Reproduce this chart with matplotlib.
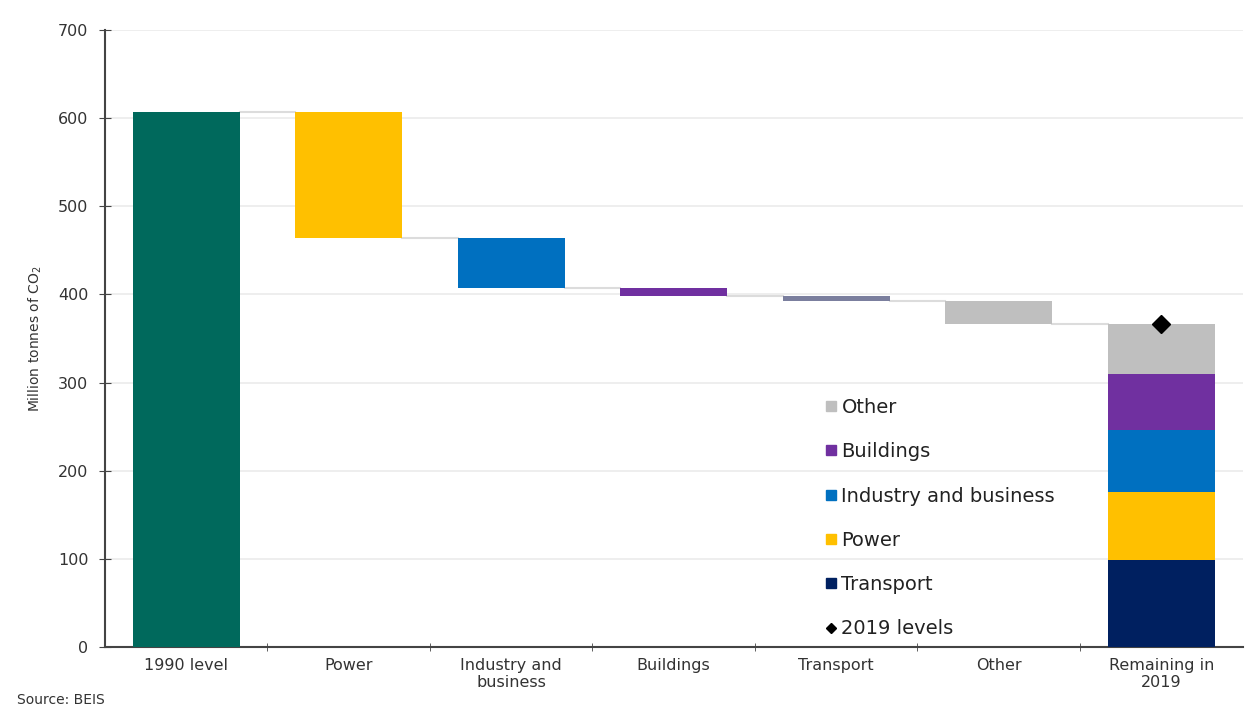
import matplotlib.pyplot as plt
from matplotlib.lines import Line2D

plt.rcParams['font.family'] = ['DejaVu Sans']

# data (million tonnes CO2)
categories = ['1990 level', 'Power', 'Industry and\nbusiness', 'Buildings',
              'Transport', 'Other', 'Remaining in\n2019']
level_1990 = 607
reductions = [143, 57, 9, 5, 27]          # Power, Industry, Buildings, Transport, Other
reduction_colours = ['#ffc000', '#0070c0', '#7030a0', '#7b7f9e', '#bfbfbf']

stack_labels = ['Transport', 'Power', 'Industry and business', 'Buildings', 'Other']
stack_values = [99, 77, 70, 64, 56]
stack_colours = ['#002060', '#ffc000', '#0070c0', '#7030a0', '#bfbfbf']
level_2019 = 366

fig = plt.figure(figsize=(12.45, 7.08), dpi=100)
ax = fig.add_axes([0.0843, 0.0862, 0.9137, 0.8714])

width = 0.66
x = list(range(len(categories)))

# 1990 level
ax.bar(x[0], level_1990, width=width, color='#00695c', zorder=3)

# waterfall steps
top = level_1990
tops = [level_1990]
for i, (r, col) in enumerate(zip(reductions, reduction_colours)):
    ax.bar(x[i + 1], r, bottom=top - r, width=width, color=col, zorder=3)
    top -= r
    tops.append(top)

# connector lines
for i in range(len(tops)):
    ax.plot([x[i] + width / 2, x[i + 1] - width / 2], [tops[i], tops[i]],
            color='#dcdcdc', lw=1.5, zorder=2)

# remaining stack
bottom = 0
handles = {}
for lab, val, col in zip(stack_labels, stack_values, stack_colours):
    ax.bar(x[-1], val, bottom=bottom, width=width, color=col, zorder=3)
    bottom += val
    handles[lab] = Line2D([], [], marker='s', ls='none', color=col, markersize=7)

ax.plot(x[-1], level_2019, marker='D', color='black', markersize=9, ls='none', zorder=4)
handles['2019 levels'] = Line2D([], [], marker='D', ls='none', color='black', markersize=5)

order = ['Other', 'Buildings', 'Industry and business', 'Power', 'Transport', '2019 levels']
ax.legend([handles[k] for k in order], order, loc='upper left',
          bbox_to_anchor=(0.615, 0.432), frameon=False, fontsize=14,
          labelspacing=1.3, handletextpad=0.1, handlelength=0.9,
          labelcolor='#222222')

ax.set_xlim(-0.5, 6.5)
ax.set_ylim(0, 700)
ax.set_yticks(range(0, 701, 100))
ax.set_xticks(x)
ax.set_xticklabels(categories, fontsize=11.5, color='#333333')
ax.set_xticks([i + 0.5 for i in range(6)], minor=True)
ax.tick_params(axis='x', which='major', length=0, pad=8)
ax.tick_params(axis='x', which='minor', length=6, direction='inout', color='#444444')
ax.tick_params(axis='y', length=8, direction='inout', labelsize=11.5,
               labelcolor='#333333', color='#444444', pad=8)

ax.grid(axis='y', color='#ebebeb', lw=1.2, zorder=0)
for s in ['top', 'right']:
    ax.spines[s].set_visible(False)
for s in ['left', 'bottom']:
    ax.spines[s].set_color('#444444')
    ax.spines[s].set_linewidth(1.5)

ax.set_ylabel('Million tonnes of CO$_2$', fontsize=10, color='#333333', labelpad=10)

fig.text(0.014, 0.002, 'Source: BEIS', fontsize=10, color='#333333', va='bottom')

fig.savefig('out.png', dpi=100)
